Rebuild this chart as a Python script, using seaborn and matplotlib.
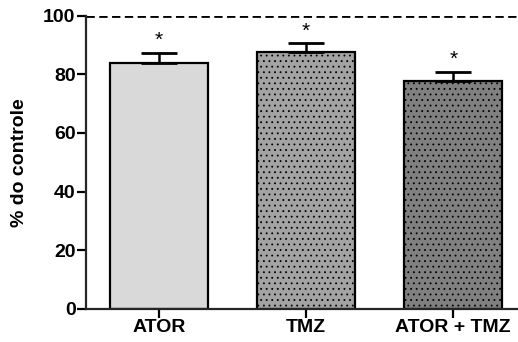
import matplotlib
matplotlib.use("Agg")
import matplotlib.pyplot as plt
import seaborn as sns
import pandas as pd

groups = ["ATOR", "TMZ", "ATOR + TMZ"]
means = [84.0, 87.6, 77.6]
sems = [3.2, 3.0, 3.2]
colors = ["#d9d9d9", "#a3a3a3", "#808080"]
hatches = ["", "...", "..."]

sns.set_style("ticks")
plt.rcParams["font.family"] = ["Liberation Sans", "DejaVu Sans"]
plt.rcParams["hatch.linewidth"] = 0.6
plt.rcParams["hatch.color"] = "#3a3a3a"
plt.rcParams["text.color"] = "black"
plt.rcParams["axes.labelcolor"] = "black"
plt.rcParams["xtick.color"] = "black"
plt.rcParams["ytick.color"] = "black"

df = pd.DataFrame({"grupo": groups, "valor": means})

fig = plt.figure(figsize=(5.18, 3.42), dpi=100)
ax = fig.add_axes([0.166, 0.097, 0.834, 0.857])
sns.barplot(data=df, x="grupo", y="valor", hue="grupo", palette=colors,
            width=0.667, edgecolor="black", linewidth=1.6, legend=False, ax=ax)
for bar, h in zip(ax.patches, hatches):
    bar.set_hatch(h)

ax.errorbar(range(len(groups)), means, yerr=[[0] * len(groups), sems],
            fmt="none", ecolor="black", elinewidth=1.8, capsize=13, capthick=2)
for i, (m, s) in enumerate(zip(means, sems)):
    ax.text(i, m + s + 1.0, "*", ha="center", va="bottom", fontsize=15)

ax.axhline(100, color="black", linestyle=(0, (3, 1.6)), linewidth=2)

ax.set_ylim(0, 100)
ax.set_xlim(-0.497, 2.44)
ax.set_yticks([0, 20, 40, 60, 80, 100])
ax.set_xlabel("")
ax.set_ylabel("% do controle", fontsize=14, fontweight="bold", labelpad=11)
ax.tick_params(axis="both", labelsize=14, width=1.6, length=6.5,
               direction="out", pad=1)
for lab in ax.get_xticklabels() + ax.get_yticklabels():
    lab.set_fontweight("bold")
sns.despine(ax=ax)
ax.spines["left"].set_linewidth(1.6)
ax.spines["bottom"].set_linewidth(1.6)

fig.savefig("out.png", dpi=100)
